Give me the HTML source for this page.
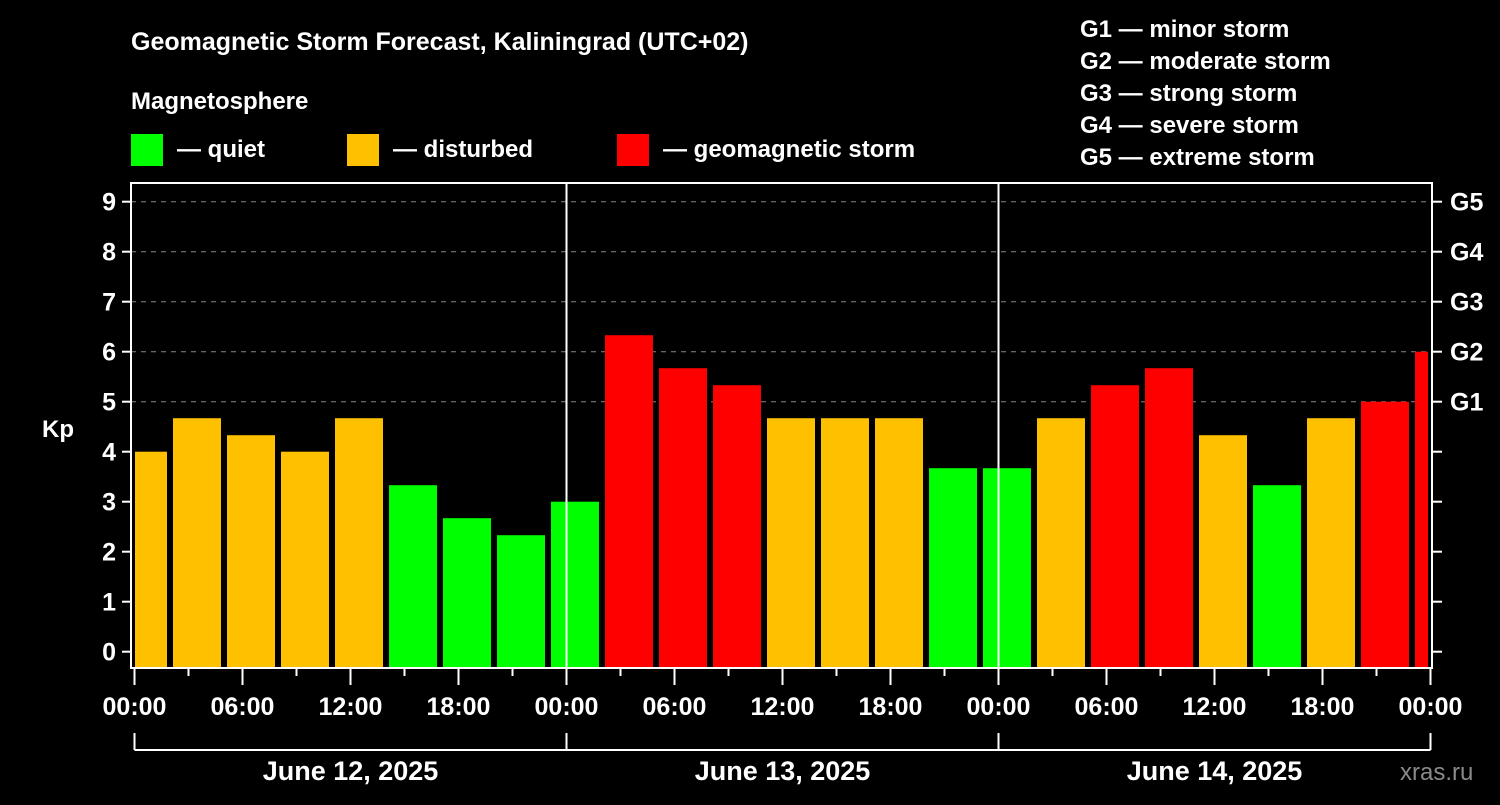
<!DOCTYPE html>
<html><head><meta charset="utf-8"><style>
body{margin:0;background:#000;width:1500px;height:800px;overflow:hidden}
svg text{font-family:"Liberation Sans",sans-serif;font-weight:bold;fill:#fff}
</style></head><body>
<svg id="c" width="1500" height="800">
<text x="131" y="50" font-size="25">Geomagnetic Storm Forecast, Kaliningrad (UTC+02)</text>
<text x="131" y="109" font-size="24">Magnetosphere</text>
<rect x="131" y="134" width="32" height="32" fill="#00ff00"/>
<text x="177" y="157" font-size="24">— quiet</text>
<rect x="347" y="134" width="32" height="32" fill="#ffc000"/>
<text x="393" y="157" font-size="24">— disturbed</text>
<rect x="617" y="134" width="32" height="32" fill="#ff0000"/>
<text x="663" y="157" font-size="24">— geomagnetic storm</text>
<g font-size="24">
<text x="1080" y="37">G1 — minor storm</text>
<text x="1080" y="69">G2 — moderate storm</text>
<text x="1080" y="101">G3 — strong storm</text>
<text x="1080" y="133">G4 — severe storm</text>
<text x="1080" y="165">G5 — extreme storm</text>
</g>
<text x="42" y="437" font-size="24">Kp</text>
<text x="1400" y="780" font-size="24" fill="#888" style="fill:#8a8a8a;font-weight:normal">xras.ru</text>
<g id="plot"></g>
</svg>
<script>
const kpValues=[4,4.67,4.33,4,4.67,3.33,2.67,2.33,3,6.33,5.67,5.33,4.67,4.67,4.67,3.67,3.67,4.67,5.33,5.67,4.33,3.33,4.67,5,6];
const yTicks=[0,1,2,3,4,5,6,7,8,9];
const gLabels=["","","","","","G1","G2","G3","G4","G5"];
const xTickLabels=["00:00","06:00","12:00","18:00","00:00","06:00","12:00","18:00","00:00","06:00","12:00","18:00","00:00"];
const dayLabels=["June 12, 2025","June 13, 2025","June 14, 2025"];
const tzOffset=2;
const NS="http://www.w3.org/2000/svg";
const g=document.getElementById('plot');
const L=131,R=1432,T=183,B=668;
const X=h=>134.5+h*18;
const Y=k=>651.7-k*50;
function mk(t,a){const e=document.createElementNS(NS,t);for(const k in a)e.setAttribute(k,a[k]);g.appendChild(e);return e;}
yTicks.forEach((k,i)=>{
 if(k>=5){const l=mk('line',{x1:L,x2:R,y1:Y(k),y2:Y(k),stroke:'#888','stroke-dasharray':'5,5','stroke-width':1});
 
 }
 const t1=mk('line',{x1:122,x2:L,y1:Y(k),y2:Y(k),stroke:'#fff','stroke-width':2});
 
 
 const t2=mk('line',{x1:R,x2:1442,y1:Y(k),y2:Y(k),stroke:'#fff','stroke-width':2});
 
 
 const tl=mk('text',{x:116,y:Y(k)+9,'font-size':25,'text-anchor':'end'});tl.textContent=k;
 
 
 if(gLabels[i]){const gl=mk('text',{x:1450,y:Y(k)+9,'font-size':25});gl.textContent=gLabels[i];
 
 }
});
kpValues.forEach((v,i)=>{
 const s=X(i*3-1+tzOffset-2)+2.5;let x1=Math.max(s,L+4),x2=Math.min(s+48,R-4);
 const col=v>=5?'#ff0000':(v>=4?'#ffc000':'#00ff00');
 const r=mk('rect',{x:x1,y:Y(v),width:x2-x1,height:B-Y(v),fill:col});
 
 
});
[24,48].forEach(h=>{const l=mk('line',{x1:X(h),x2:X(h),y1:T,y2:B,stroke:'#fff','stroke-width':2});
 
 });
const fr=mk('rect',{x:L,y:T,width:R-L,height:B-T,fill:'none',stroke:'#fff','stroke-width':2});


for(let h=0;h<=72;h+=3){const maj=h%6==0;
 const l=mk('line',{x1:X(h),x2:X(h),y1:B,y2:B+(maj?17:8),stroke:'#fff','stroke-width':2});
 
 }
xTickLabels.forEach((s,i)=>{const t=mk('text',{x:X(i*6),y:715,'font-size':25,'text-anchor':'middle'});t.textContent=s;
 
 });
const br=mk('line',{x1:X(0),x2:X(72),y1:750,y2:750,stroke:'#fff','stroke-width':2});


[0,24,48,72].forEach(h=>{const l=mk('line',{x1:X(h),x2:X(h),y1:733,y2:750,stroke:'#fff','stroke-width':2});
 
 });
dayLabels.forEach((s,i)=>{const t=mk('text',{x:X(i*24+12),y:780,'font-size':27,'text-anchor':'middle'});t.textContent=s;
 
 });
</script>
</body></html>
